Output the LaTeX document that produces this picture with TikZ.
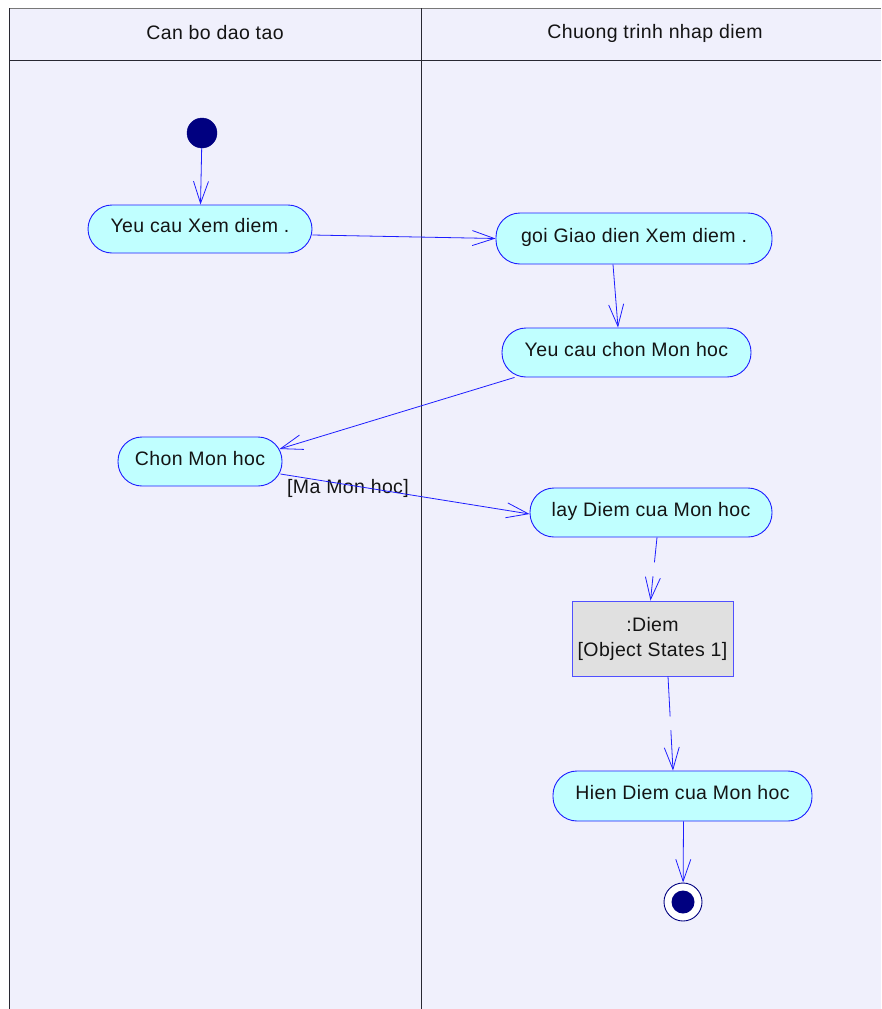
\documentclass[tikz,border=0pt]{standalone}
\usepackage{fontspec}
\setmainfont{Liberation Sans}[LetterSpace=2]
\usetikzlibrary{arrows.meta,calc}

\definecolor{lanebg}{RGB}{240,240,252}
\definecolor{actfill}{RGB}{192,255,255}
\definecolor{flowblue}{RGB}{30,30,255}
\definecolor{objedge}{RGB}{80,80,255}
\definecolor{navydot}{RGB}{0,0,128}
\definecolor{objfill}{RGB}{224,224,224}
\definecolor{inkgray}{RGB}{20,20,20}
\definecolor{framegray}{RGB}{120,120,120}
\definecolor{framedark}{RGB}{40,40,50}

\begin{document}
\begin{tikzpicture}[x=1pt,y=-1pt,
  every node/.style={font=\fontsize{19.5}{25}\selectfont, text=inkgray},
  activity/.style={draw=flowblue, fill=actfill, line width=0.9pt,
    rounded corners=24pt, inner sep=0pt, text height=14pt, text depth=7pt},
  objnode/.style={draw=objedge, fill=objfill, line width=0.9pt,
    inner sep=0pt, align=center, minimum width=161pt, minimum height=75pt},
  flow/.style={draw=flowblue, line width=0.8pt,
    -{Straight Barb[length=22pt, width=15pt, line width=0.8pt]}},
  objflow/.style={flow, dash pattern=on #1 off 14pt},
  lanerule/.style={draw=framedark, line width=0.9pt}
]
\useasboundingbox (0,0) rectangle (881,1009);

% swimlanes
\fill[lanebg] (9,8) rectangle (881,1009);
\draw[draw=framegray, line width=1.5pt] (9,8.5) -- (881,8.5);
\draw[lanerule] (9.5,8) -- (9.5,1009);
\draw[lanerule] (9,60) -- (881,60);
\draw[lanerule] (421,8) -- (421,1009);

\node (laneA) at (215,33) {Can bo dao tao};
\node (laneB) at (655,33) {Chuong trinh nhap diem};

% start and end states
\node[circle, fill=navydot, draw=navydot, minimum size=30pt, inner sep=0pt] (start) at (202,133) {};
\node[circle, draw=navydot, fill=white, line width=0.9pt, minimum size=38pt, inner sep=0pt] (end) at (683,902) {};
\node[circle, fill=navydot, minimum size=23pt, inner sep=0pt] (enddot) at (683,902) {};

% activities
\node[activity, minimum width=224pt, minimum height=48pt] (yxd) at (200,229) {Yeu cau Xem diem .};
\node[activity, minimum width=276pt, minimum height=51pt] (goi) at (634,238.5) {goi Giao dien Xem diem .};
\node[activity, minimum width=249pt, minimum height=49pt] (ycc) at (626.5,352.5) {Yeu cau chon Mon hoc};
\node[activity, minimum width=164pt, minimum height=49pt] (cmh) at (200,461.5) {Chon Mon hoc};
\node[activity, minimum width=242pt, minimum height=49pt] (lay) at (651,512.5) {lay Diem cua Mon hoc};
\node[objnode] (obj) at (652.5,638.5) {:Diem\\{}[Object States 1]\vphantom{p}};
\node[activity, minimum width=259pt, minimum height=50pt] (hien) at (682.5,796) {Hien Diem cua Mon hoc};

% guard label
\node (guard) at (348,488) {[Ma Mon hoc]};

% control flows
\draw[flow] (start) -- (yxd);
\draw[flow] ($(yxd.east)+(0,6)$) -- (goi.west);
\draw[flow] ($(goi.south)+(-21,0)$) -- ($(ycc.north)+(-8.5,0)$);
\draw[flow] ($(ycc.south)+(-112,0)$) -- ($(cmh.east)+(-3,-12.5)$);
\draw[flow] ($(cmh.east)+(-2,12.5)$) -- ($(lay.west)+(0,1.5)$);
\draw[objflow=25pt] ($(lay.south)+(6,0)$) -- ($(obj.north)+(-2,0)$);
\draw[objflow=40pt] ($(obj.south)+(15.5,0)$) -- ($(hien.north)+(-9.5,0)$);
\draw[flow] ($(hien.south)+(1,0)$) -- (end);
\end{tikzpicture}
\end{document}
